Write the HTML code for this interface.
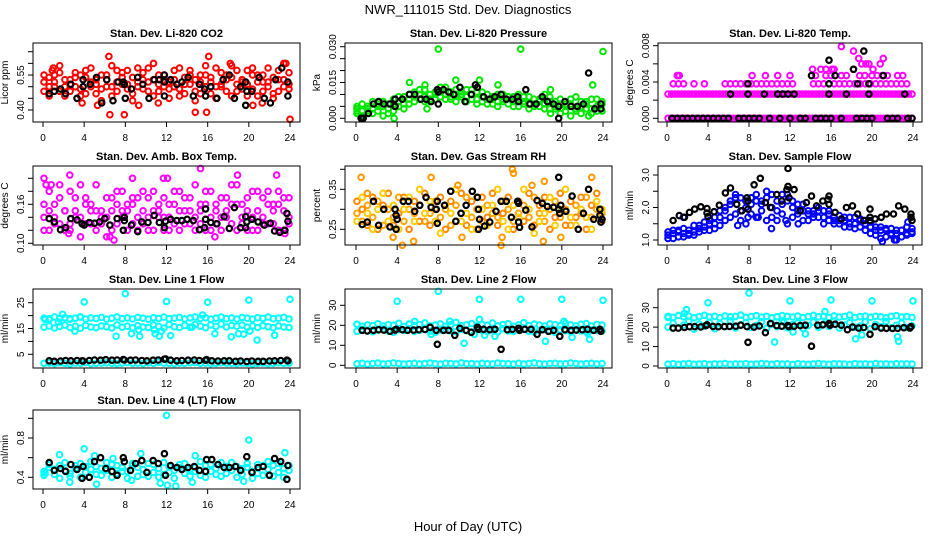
<!DOCTYPE html>
<html><head><meta charset="utf-8"><title>NWR_111015 Std. Dev. Diagnostics</title>
<style>
html,body{margin:0;padding:0;background:#fff;}
svg{display:block;font-family:"Liberation Sans",Arial,sans-serif;}
</style></head>
<body>
<svg id="chart" width="936" height="540" viewBox="0 0 936 540" xmlns="http://www.w3.org/2000/svg">
<rect x="0" y="0" width="936" height="540" fill="#fff"/>
<text x="468" y="14" text-anchor="middle" font-size="13">NWR_111015  Std. Dev. Diagnostics</text>
<text x="468" y="531" text-anchor="middle" font-size="13">Hour of Day (UTC)</text>
</svg>
<script>
// ---------- shared ----------
const xTicks = [0,4,8,12,16,20,24];
// ---------- P1 CO2 ----------
const co2A = [.52,.50,.55,.48,.53,.51,.56,.49,.54,.52,.47,.55,.53,.50,.57,.51,.49,.54,.52,.56,.48,.53,.55,.50,.52,.57,.49,.54,.51,.53,.47,.55,.52,.50,.56,.48,.54,.51,.53,.57,.49,.52,.55,.50,.54,.48,.53,.51];
const co2B = [.48,.54,.50,.56,.46,.53,.50,.55,.47,.58,.51,.49,.55,.46,.52,.54,.57,.47,.50,.53,.58,.46,.51,.55,.49,.53,.46,.51,.57,.48,.55,.50,.47,.58,.51,.53,.46,.57,.49,.51,.55,.46,.52,.58,.47,.53,.50,.56];
const co2C = [.55,.46,.52,.59,.50,.48,.54,.46,.57,.50,.53,.44,.50,.59,.48,.56,.51,.44,.58,.49,.52,.60,.48,.53,.45,.50,.58,.47,.55,.44,.52,.59,.54,.45,.50,.55,.59,.48,.52,.46,.58,.55,.48,.52,.45,.57,.60,.49];
const co2OutH = [1,6.4,6.5,7.9,9.3,11.2,14.8,15.9,16.1,18.2,21.3,20.4,24,23.6,0.9,5.3,3.8];
const co2OutV = [.58,.63,.38,.38,.42,.43,.39,.39,.63,.60,.43,.42,.36,.60,.57,.42,.43];
const co2BlkH = [0.6,1.1,1.7,2.2,2.7,3.3,3.9,3.9,4.6,5.2,5.7,6.2,6.8,7.3,7.8,7.9,8.0,8.6,9.2,9.7,10.3,10.8,11.3,11.8,11.8,11.8,12.4,13.0,13.5,14.1,14.6,15.2,15.7,15.8,16.3,16.9,17.5,18.1,18.6,19.2,19.7,19.8,19.7,20.3,21.0,21.5,22.1,22.6,23.2,23.8,23.8];
const co2BlkV = [.47,.48,.49,.47,.51,.45,.50,.53,.51,.54,.43,.53,.44,.52,.52,.51,.45,.49,.54,.51,.45,.53,.53,.55,.52,.46,.53,.51,.52,.54,.46,.51,.49,.46,.50,.45,.53,.55,.45,.50,.52,.48,.42,.48,.54,.45,.43,.53,.58,.52,.46];
// ---------- P2 Pressure ----------
const presA = [.004,.003,.005,.004,.006,.005,.004,.006,.007,.006,.008,.009,.010,.009,.008,.010,.011,.010,.009,.010,.011,.009,.010,.008,.009,.008,.009,.007,.008,.009,.007,.008,.007,.006,.008,.007,.006,.007,.005,.006,.005,.006,.004,.005,.006,.004,.005,.006];
const presB = [.002,.006,.003,.007,.003,.007,.002,.008,.005,.009,.006,.011,.008,.012,.007,.011,.009,.013,.008,.012,.010,.012,.008,.011,.007,.010,.006,.010,.007,.009,.005,.010,.006,.009,.005,.008,.004,.009,.004,.008,.003,.008,.003,.007,.004,.008,.003,.007];
const presC = [.005,.001,.004,.002,.005,.001,.006,.003,.009,.004,.010,.007,.012,.007,.010,.008,.013,.008,.011,.007,.009,.007,.012,.006,.011,.006,.008,.005,.010,.006,.009,.005,.009,.004,.006,.005,.010,.004,.007,.002,.006,.001,.009,.002,.007,.002,.008,.003];
const presOutH = [8,16,24,0.1,23,22.6,3.7,6.9,9.7,12,18.9,18.9,5.2,6.7,13.8];
const presOutV = [.029,.029,.028,.003,.014,.001,.000,.004,.016,.016,.012,.002,.015,.014,.014];
const presBlkH = [0.5,0.7,1.2,1.7,2.2,2.7,3.3,3.8,3.8,4.5,5.2,5.7,6.3,6.8,7.3,7.9,8.0,8.0,8.5,9.0,9.5,10.1,10.6,11.2,11.6,11.8,12.4,13.0,13.5,14.1,14.6,15.2,15.7,15.8,16.5,16.9,17.5,18.1,18.6,19.2,19.7,19.7,20.3,20.9,21.5,22.1,22.6,23.2,23.8,23.8];
const presBlkV = [0,0,.002,.006,.007,.006,.006,.008,.005,.008,.010,.010,.008,.008,.007,.012,.011,.006,.012,.011,.010,.013,.007,.010,.014,.013,.009,.008,.009,.010,.008,.008,.009,.007,.012,.006,.006,.009,.007,.006,.005,.000,.007,.005,.005,.006,.019,.004,.004,.006];
// ---------- P3 Temp ----------
const tmpA = [0,0,0,0,0,0,0,0,0,0,0,0,0,0,0,0,0,0,0,0,0,0,0,0,0,0,0,0,0,0,0,0,0,0,0,0,0,0,0,0,0,0,0,0,0,0,0,0,0,0,0,0,0,0,0,0,0,0,0,0,0,0,0,0,0,0,0,0,0,0,0,0];
const tmpB = [.00267,.00267,.00267,.00267,.00267,.00267,.00267,.00267,.00267,.00267,.00267,.00267,.00267,.00267,.00267,.00267,.00267,.00267,.00267,.00267,.00267,.00267,.00267,.00267,.00267,.00267,.00267,.00267,.00267,.00267,.00267,.00267,.00267,.00267,.00267,.00267,.00267,.00267,.00267,.00267,.00267,.00267,.00267,.00267,.00267,.00267,.00267,.00267,.00267,.00267,.00267,.00267,.00267,.00267,.00267,.00267,.00267,.00267,.00267,.00267,.00267,.00267,.00267,.00267,.00267,.00267,.00267,.00267,.00267,.00267,.00267,.00267];
const tmpC = [null,.0038,.0038,.0038,null,.0038,null,.0038,null,null,null,.0038,.0038,.0038,.0038,.0038,.0038,.0038,.0038,.0038,.0038,.0038,.0038,.0038,.0038,null,null,null,.0038,.0038,.0038,.0038,.0038,.0038,.0038,.0038,.0038,.0038,.0038,.0038,.0038,.0038,.0038,.0038,.0038,.0038,.0038,null];
const tmpOutH = [1,1.2,8.3,9.6,10.8,12,14.5,15.5,16,17,17.5,18.8,19.3,20,20.5,21,21.5,22.5,23,14.2,15,15.5,16.1,18.2,19,19.4,20.1,18.7,20.8,21.1,17,18.2,16.3,19.7];
const tmpOutV = [.0047,.0047,.0047,.0047,.0047,.0047,.0047,.0047,.0047,.0047,.0047,.0047,.0047,.0047,.0047,.0047,.0047,.0047,.0047,.0054,.0054,.0054,.0054,.0054,.006,.006,.0054,.0066,.006,.0066,.0079,.0074,.0054,.006];
const tmpBlkH = [0.5,1.0,1.5,2.0,2.5,3.0,3.5,4.0,4.5,5.0,5.5,6.0,7.0,7.5,8.0,8.5,9.0,10.0,11.0,12.0,13.0,13.5,14.5,15.0,15.5,16.0,17.0,18.5,19.0,19.5,20.0,21.5,22.0,22.5,23.5,23.9,6.2,7.9,9.5,10.8,11.3,11.8,12.4,15.8,17.5,19.7,23.2,7.9,15.8,18.6,19.7,14.1,16.4,21.1,15.8,18.2,19.2];
const tmpBlkV = [0,0,0,0,0,0,0,0,0,0,0,0,0,0,0,0,0,0,0,0,0,0,0,0,0,0,0,0,0,0,0,0,0,0,0,0,.00267,.00267,.00267,.00267,.00267,.00267,.00267,.00267,.00267,.00267,.00267,.0038,.0038,.0038,.0038,.0047,.0047,.0047,.0064,.0054,.0074];
// ---------- P4 Amb Box Temp ----------
const ambA = [.14,.12,.16,.13,.15,.12,.17,.14,.13,.16,.12,.15,.14,.17,.13,.15,.12,.16,.14,.13,.17,.12,.15,.14,.16,.13,.12,.15,.17,.14,.13,.16,.12,.15,.14,.17,.13,.12,.16,.15,.14,.12,.17,.13,.15,.16,.12,.14];
const ambB = [.16,.18,.13,.17,.12,.18,.14,.11,.17,.15,.19,.13,.17,.12,.16,.18,.15,.13,.17,.15,.12,.18,.14,.17,.12,.16,.18,.13,.15,.19,.16,.12,.18,.13,.17,.14,.16,.19,.13,.17,.12,.18,.14,.16,.13,.18,.15,.17];
const ambC = [.12,.15,.14,.19,.15,.13,.15,.19,.16,.13,.15,.14,.11,.15,.18,.14,.16,.17,.12,.18,.14,.15,.16,.12,.14,.18,.15,.17,.13,.12,.15,.18,.14,.16,.12,.15,.19,.16,.14,.12,.18,.15,.13,.18,.16,.12,.17,.13];
const ambOutH = [0.1,0.3,0.8,2.6,6.5,6.9,8.7,11.7,12.1,15.3,18.9,22.7,16.7,2.5,23.5];
const ambOutV = [.20,.19,.19,.205,.11,.105,.20,.20,.20,.215,.205,.205,.11,.115,.115];
const ambBlkH = [0.6,1.1,1.7,2.2,2.7,3.3,3.8,4.0,4.5,5.0,5.5,6.0,6.5,7.2,7.8,7.9,7.9,8.6,9.2,9.6,10.2,10.8,11.3,11.8,11.9,12.4,13.0,13.5,14.0,14.6,15.2,15.7,15.8,15.8,16.3,16.9,17.6,18.1,18.6,19.2,19.7,19.8,19.7,20.3,20.9,21.5,22.1,22.5,23.0,23.5,23.7,23.8];
const ambBlkV = [.138,.133,.121,.124,.138,.136,.130,.128,.132,.131,.133,.138,.128,.138,.120,.135,.140,.128,.118,.133,.132,.143,.132,.124,.134,.137,.135,.135,.137,.135,.121,.124,.137,.153,.132,.130,.141,.123,.155,.124,.124,.133,.141,.137,.133,.128,.131,.119,.117,.120,.146,.134];
// ---------- P5 Gas Stream RH ----------
const rhA = [.29,.27,.31,.28,.32,.26,.30,.28,.33,.27,.30,.29,.31,.27,.29,.32,.28,.30,.26,.31,.29,.33,.28,.30,.27,.31,.29,.28,.32,.30,.27,.29,.31,.28,.33,.29,.27,.30,.32,.28,.30,.26,.31,.29,.33,.28,.30,.29];
const rhB = [.32,.30,.26,.33,.25,.31,.34,.26,.29,.33,.25,.32,.27,.34,.26,.30,.33,.25,.32,.27,.34,.26,.32,.25,.33,.28,.34,.26,.29,.33,.25,.32,.27,.34,.26,.31,.33,.25,.28,.34,.26,.32,.28,.33,.25,.31,.34,.27];
const rhC = [.27,.33,.29,.25,.30,.34,.27,.31,.25,.30,.33,.27,.35,.29,.32,.27,.24,.31,.29,.35,.27,.29,.25,.33,.30,.26,.31,.35,.27,.25,.31,.28,.35,.30,.24,.27,.29,.33,.26,.30,.35,.28,.26,.30,.28,.25,.32,.30];
const rhOutH = [0.5,1.1,4.5,5.6,7.3,9.9,14.1,14.2,15.2,15.3,17.1,18.2,18.3,22.9,19.9,3.6,10.3];
const rhOutV = [.38,.34,.21,.22,.38,.36,.21,.23,.40,.39,.36,.22,.37,.38,.23,.23,.23];
const rhBlkH = [0.6,1.1,1.7,2.2,2.7,3.3,3.8,3.9,3.9,4.0,4.6,5.1,5.7,6.2,6.8,7.3,7.8,7.9,7.9,8.6,9.2,9.7,10.2,10.7,11.3,11.8,11.9,11.9,12.0,12.5,13.0,13.6,14.1,14.6,15.1,15.7,15.8,15.8,15.9,16.5,17.1,17.6,18.1,18.6,19.2,19.7,19.8,19.7,19.9,20.4,21.0,21.6,22.1,22.6,23.1,23.7,23.7,23.8,23.9];
const rhBlkV = [.262,.268,.32,.26,.30,.256,.30,.285,.25,.275,.32,.32,.295,.31,.33,.305,.30,.32,.265,.31,.345,.27,.29,.31,.345,.33,.30,.25,.275,.258,.268,.295,.32,.32,.28,.32,.315,.268,.255,.298,.256,.322,.315,.307,.305,.30,.29,.38,.31,.295,.333,.25,.29,.35,.275,.30,.285,.268,.275];
// ---------- P6 Sample Flow ----------
const sfA = [1.15,1.2,1.25,1.2,1.3,1.25,1.35,1.4,1.5,1.5,1.7,1.9,2.1,2.3,1.9,2.0,2.1,2.2,2.2,2.3,2.0,1.9,2.1,2.2,2.0,1.9,1.9,1.8,1.8,1.9,1.7,1.8,1.6,1.6,1.6,1.5,1.5,1.6,1.5,1.4,1.3,1.3,1.3,1.2,1.2,1.3,1.2,1.2];
const sfB = [1.05,1.3,1.1,1.35,1.15,1.45,1.25,1.55,1.3,1.7,1.45,2.0,1.7,2.4,1.6,2.2,1.8,2.4,1.9,2.5,1.7,2.2,1.8,2.4,1.7,2.1,1.6,1.9,1.7,2.0,1.5,1.9,1.5,1.75,1.4,1.7,1.35,1.65,1.3,1.55,1.15,1.4,1.1,1.35,1.0,1.3,1.15,1.35];
const sfC = [1.25,1.05,1.3,1.1,1.2,1.15,1.45,1.3,1.6,1.35,1.9,1.6,2.2,1.8,2.3,1.5,2.3,1.7,2.1,1.6,2.4,1.6,2.4,1.5,2.2,1.8,2.1,1.6,1.9,1.7,1.9,1.6,1.7,1.5,1.7,1.4,1.7,1.4,1.6,1.2,1.4,1.05,1.35,1.15,1.3,1.1,1.4,1.25];
const sfOutH = [1.6,8.9,10.2,12.8,21,22.2,23.5,6.9,11.6,7.9];
const sfOutV = [1.7,1.7,1.35,1.5,0.95,1.0,1.55,1.45,1.6,1.7];
const sfBlkH = [0.6,1.2,1.7,2.2,2.7,3.3,3.9,3.9,4.0,4.6,5.1,5.7,6.2,6.8,7.3,7.8,7.9,7.9,8.5,9.1,9.6,10.1,10.7,11.2,11.7,11.8,11.8,11.9,12.4,13.0,13.6,14.1,14.6,15.2,15.7,15.8,15.8,16.4,17.0,17.5,18.1,18.6,19.2,19.8,19.8,19.8,20.3,20.9,21.4,22.1,22.6,23.2,23.8,23.8,23.9];
const sfBlkV = [1.6,1.75,1.7,1.85,1.95,2.02,1.97,1.83,1.72,1.87,2.07,2.45,2.6,2.1,1.9,2.3,2.2,1.95,2.7,2.9,2.15,2.0,2.4,2.2,2.55,2.65,3.2,2.3,2.55,1.9,2.15,2.35,2.05,2.2,2.25,2.35,2.1,1.85,1.65,2.0,2.05,1.8,1.6,1.95,1.7,1.6,1.65,1.7,1.8,1.8,2.05,1.95,1.8,1.7,1.6];
// ---------- line flows black hours ----------
const lineBlkH = [0.6,1.1,1.7,2.2,2.7,3.3,3.8,3.9,4.5,5.0,5.6,6.1,6.7,7.2,7.8,7.9,8.5,9.0,9.6,10.1,10.7,11.2,11.8,11.9,12.4,13.0,13.5,14.1,14.7,15.2,15.8,15.9,16.4,17.0,17.6,18.1,18.7,19.2,19.8,20.3,20.9,21.4,22.0,22.5,23.1,23.7,23.8];
// ---------- P7 Line 1 ----------
const l1Hi = [19,18.5,19.5,18.8,19.2,18.6,19,19.4,18.7,19.1,18.9,19.3,18.6,19,19.5,18.8,19.1,18.7,19.3,19,18.6,19.2,18.9,19.4,18.8,19,19.3,18.7,19.1,19.5,18.9,19.2,18.6,19,19.4,18.8,19.1,18.7,19.3,19,18.6,19.2,18.9,19.4,18.8,19,19.3,18.7];
const l1Lo = [15.5,16,15.2,15.8,16.3,15.4,15.9,15.1,16.2,15.6,15.3,16,15.7,15.2,16.4,15.5,15.9,15.3,16.1,15.6,15.4,16.3,15.8,15.2,16.5,15.7,15.4,16.2,15.5,16.6,15.9,15.3,16.4,15.8,16.7,15.6,16.2,15.9,16.3,15.5,16,15.4,16.1,15.7,15.3,16,15.6,15.4];
const l1Base = [1.5,1.6,1.4,1.7,1.5,1.3,1.6,1.5,1.8,1.4,1.5,1.6,1.7,1.5,1.4,1.6,1.8,1.5,1.6,1.4,1.7,1.5,1.9,1.6,1.5,1.4,1.6,1.5,1.7,1.8,1.5,1.6,1.4,1.5,1.7,1.6,1.5,1.4,1.6,1.5,1.3,1.5,1.6,1.4,1.5,1.7,1.5,1.6];
const l1OutH = [0.2,0.6,1.9,3.6,4,7.1,8,8.6,9.4,10.9,11.3,12,12.4,15.5,16,16.7,18.3,19,19.5,20,20.8,22.5,24,1.5,2.6,3.1,9.3,10.8,11.5,14.5,20.1];
const l1OutV = [18.5,18.8,20.5,19.5,25.3,12,28.5,13,12,13,12,25.5,12.3,20.2,25.2,13,11.8,13,12.8,26,10.5,12.4,26.3,17.5,18.8,14,14.5,14.5,14,15.6,14];
const l1BlkV = [2.5,2.3,2.4,2.6,2.5,2.6,2.5,2.4,2.6,2.8,2.7,2.9,2.7,2.8,3.0,2.8,2.7,2.8,2.6,2.5,2.7,2.8,3.1,3.2,2.7,2.5,2.6,2.7,2.8,2.6,2.7,2.9,2.5,2.4,2.5,2.5,2.3,2.4,2.2,2.4,2.3,2.3,2.4,2.5,2.6,2.7,2.5];
// ---------- P8 Line 2 ----------
const l2A = [20.5,19.5,20.2,19.8,20.8,19.6,20.3,20,21,19.4,20.6,19.9,20.4,21.2,19.7,20.1,20.7,19.5,20.3,21.5,19.8,20.2,20.9,19.6,20.5,20,21.1,19.7,20.4,20.8,19.5,20.2,21.3,19.9,20.6,20.1,19.6,20.7,20.3,19.8,21,20.2,19.7,20.5,20.9,19.6,20.4,20.1];
const l2B = [17,18,17.3,16.8,17.6,18.2,17.1,16.5,17.8,17.4,18.3,16.9,17.5,18.1,17,16.4,17.7,18,17.2,16.8,17.9,17.3,16.6,18.2,17.4,17,17.8,16.7,18.3,17.2,16.9,17.6,18.1,17,16.6,17.5,17.9,17.1,16.4,17.8,17.3,16.8,18,17.2,16.9,17.7,17.4,17.1];
const l2Base = [0.8,1,0.6,0.9,1.1,0.7,0.8,1.2,0.9,0.6,0.8,1,0.7,0.9,1.1,0.8,0.6,1,0.9,0.7,1.2,0.8,0.9,0.6,1,0.8,0.7,1.1,0.9,0.8,0.6,1,0.7,0.9,1.2,0.8,0.6,0.9,1,0.7,0.8,1.1,0.9,0.6,0.8,1,0.7,0.9];
const l2OutH = [0.1,4,7.3,8,10.5,12,12,13.5,16,18.4,20,20.2,21,22.5,22.7,24,5.7,9.1,11.5,12.5];
const l2OutV = [20.5,32,15.5,37,11,33,23,14.5,33,12,33,22,14,16,13,32.5,22,22,15.5,15];
const l2BlkV = [17.5,17.2,17.5,17.8,17.6,17.0,17.6,18.0,17.8,17.5,17.6,17.8,17.9,19.0,17.5,10.5,17.5,17.5,15.0,18.5,17.5,16.5,19.0,18.0,18.0,17.8,18.0,8.0,17.8,18.0,18.5,17.5,18.0,18.0,15.5,17.8,17.0,17.5,14.5,17.8,17.5,17.6,17.8,18.0,17.5,18.0,17.0];
// ---------- P9 Line 3 ----------
const l3A = [25.5,25,26,25.3,25.7,24.8,25.4,26.1,25.2,25.6,24.9,25.8,25.3,25.5,26.2,25,25.4,25.9,25.1,25.6,24.8,25.3,26,25.5,25.2,25.7,24.9,25.4,26.1,25.3,25.6,25,25.8,25.2,25.5,26.2,24.9,25.4,25.7,25.1,25.6,25.3,24.8,25.5,25.9,25.2,25.4,25];
const l3B = [20,22,19.5,21,23,19,21.5,20.5,22.5,19.2,21.8,20.3,23.2,19.6,21.2,22.4,19.8,20.8,22.8,19.4,21.6,20.2,23,19.7,21.3,22.2,19.3,20.9,22.6,19.9,21.7,20.4,23.1,19.5,21.1,22.3,19.9,20.6,22.7,19.2,21.4,20.1,22.9,19.6,21,22.1,19.8,20.7];
const l3Base = [1,1.2,0.9,1.1,1.3,0.9,1,1.2,0.8,1.1,1,1.3,0.9,1.1,1,1.2,0.9,1,1.3,1.1,0.9,1.2,1,1.1,0.8,1.2,1,0.9,1.1,1.3,1,0.9,1.2,1.1,1,0.8,1.2,1,1.1,0.9,1.3,1,1.1,0.9,1.2,1,1.1,1];
const l3OutH = [1.9,4,8,10.5,12,16,18.4,19,20,22.5,22.6,24,13.5,12.3,11.4,15.4,0.1,1.7];
const l3OutV = [29,32.5,37.5,12.3,33.5,34,14,16,33.5,15,12.7,33.5,16.5,17.5,22.5,28,25,27];
const l3BlkV = [19.5,19.5,19.8,20.2,20.3,20.1,20.8,21.2,20.4,20.2,20.3,20.4,20.5,21.0,20.3,12.2,20.0,20.6,17.2,21.8,20.8,20.5,20.8,20.3,20.5,20.8,21.0,10.2,21.0,21.2,21.8,21.0,21.5,21.0,18.7,20.0,19.5,19.8,16.3,20.2,19.5,19.4,19.3,19.4,19.7,19.5,20.3];
// ---------- P10 Line 4 ----------
const l4A = [.46,.50,.43,.52,.47,.41,.49,.54,.45,.48,.51,.42,.47,.53,.44,.50,.46,.52,.41,.48,.54,.45,.49,.43,.51,.47,.53,.44,.48,.50,.42,.52,.46,.49,.55,.44,.47,.51,.43,.50,.46,.53,.42,.48,.52,.45,.49,.47];
const l4B = [.42,.53,.48,.39,.55,.44,.52,.40,.51,.56,.43,.49,.55,.40,.52,.46,.39,.54,.50,.43,.41,.53,.40,.55,.45,.39,.50,.54,.41,.46,.56,.40,.53,.43,.41,.51,.55,.40,.49,.54,.39,.44,.52,.56,.41,.54,.40,.52];
const l4OutH = [12,20,4,23.5,1.6,5,9.5,12.1,12.9,5.2,2.6,11.4,14.5,8.6,14.8,6.8,19.5,0.2];
const l4OutV = [1.03,.78,.69,.65,.63,.62,.64,.32,.31,.33,.35,.34,.35,.37,.62,.59,.36,.44];
const l4BlkV = [.55,.47,.49,.46,.53,.48,.39,.51,.40,.56,.60,.49,.46,.42,.60,.56,.47,.54,.57,.45,.57,.54,.64,.42,.52,.50,.48,.50,.51,.47,.46,.58,.58,.53,.50,.50,.51,.47,.61,.45,.50,.51,.42,.59,.56,.38,.52];

// ---------- layout ----------
const NS = "http://www.w3.org/2000/svg";
const svg = document.getElementById("chart");
const colX = [[33,300,43,290],[345,612,356,603],[658,922,667,913]];
const rowY = [[43,122],[166,245],[289,368],[410,489]];
function mk(tag, attrs, parent){ const e=document.createElementNS(NS,tag); for(const k in attrs) e.setAttribute(k,attrs[k]); (parent||svg).appendChild(e); return e; }
function idxHours(n){ const h=[]; for(let i=0;i<n;i++) h.push(0.1+i*23.8/(n-1)); return h; }

function panel(p){
  const [bl,br,x0,x24]=colX[p.col]; const [bt,bb]=rowY[p.row];
  const xs = h => x0 + (x24-x0)*h/24;
  const ys = v => p.py0 + (v-p.v0)*(p.py1-p.py0)/(p.v1-p.v0);
  const g = mk("g",{});
  
  
  const t = mk("text",{x:(bl+br)/2,y:bt-6,"text-anchor":"middle","font-size":"11","font-weight":"bold"},g);
  t.textContent=p.title;
  
  
  const yl = mk("text",{x:0,y:0,"text-anchor":"middle","font-size":"10",transform:`translate(${bl-25},${(bt+bb)/2}) rotate(-90)`},g);
  yl.textContent=p.ylab;
  
  
  const plot = mk("g",{},g);
  
  
  p.series.forEach((s,si)=>{
    const hrs = s.h || idxHours(s.v.length);
    s.v.forEach((v,i)=>{
      if(v===null) return;
      const c = mk("circle",{cx:xs(hrs[i]).toFixed(1),cy:ys(v).toFixed(1),r:s.black?2.7:2.8,fill:"none",stroke:s.color,"stroke-width":s.black?2.2:2},plot);
      
      
    });
  });
  const box = mk("rect",{x:bl,y:bt,width:br-bl,height:bb-bt,fill:"none",stroke:"#000","stroke-width":1},g);
  
  
  const xa = mk("g",{},g);
  
  
  mk("line",{x1:x0,y1:bb,x2:x24,y2:bb,stroke:"#000"},xa);
  xTicks.forEach(h=>{
    mk("line",{x1:xs(h),y1:bb,x2:xs(h),y2:bb+5,stroke:"#000"},xa);
    const tl = mk("text",{x:xs(h),y:bb+19,"text-anchor":"middle","font-size":"10"},xa);
    tl.textContent=h;
    
    
  });
  const ya = mk("g",{},g);
  
  
  mk("line",{x1:bl,y1:ys(p.ticks[0]),x2:bl,y2:ys(p.ticks[p.ticks.length-1]),stroke:"#000"},ya);
  p.ticks.forEach(v=>{ mk("line",{x1:bl-5,y1:ys(v),x2:bl,y2:ys(v),stroke:"#000"},ya); });
  p.labels.forEach((lab,i)=>{
    const tl = mk("text",{x:0,y:0,"text-anchor":"middle","font-size":"10",transform:`translate(${bl-9},${ys(p.labVals[i])}) rotate(-90)`},ya);
    tl.textContent=lab;
    
    
  });
}

const red="#ff0000", grn="#00e600", mag="#ff00ff", blu="#0000ff", cya="#00ffff", blk="#000000";
panel({name:"co2-panel",col:0,row:0,title:"Stan. Dev. Li-820 CO2",ylab:"Licor ppm",v0:.40,py0:110,v1:.65,py1:51.7,
  ticks:[.40,.45,.50,.55,.60,.65],labels:["0.40","0.55"],labVals:[.40,.55],
  series:[{v:co2A,color:red},{v:co2B,color:red},{v:co2C,color:red},{h:co2OutH,v:co2OutV,color:red},{h:co2BlkH,v:co2BlkV,color:blk,black:1}]});
panel({name:"pressure-panel",col:1,row:0,title:"Stan. Dev. Li-820 Pressure",ylab:"kPa",v0:0,py0:118.3,v1:.030,py1:46.7,
  ticks:[0,.005,.010,.015,.020,.025,.030],labels:["0.000","0.015","0.030"],labVals:[0,.015,.030],
  series:[{v:presA,color:grn},{v:presB,color:grn},{v:presC,color:grn},{h:presOutH,v:presOutV,color:grn},{h:presBlkH,v:presBlkV,color:blk,black:1}]});
panel({name:"temp-panel",col:2,row:0,title:"Stan. Dev. Li-820 Temp.",ylab:"degrees C",v0:0,py0:118.3,v1:.008,py1:45.7,
  ticks:[0,.002,.004,.006,.008],labels:["0.000","0.004","0.008"],labVals:[0,.004,.008],
  series:[{v:tmpA,color:mag},{v:tmpB,color:mag},{v:tmpC,color:mag},{h:tmpOutH,v:tmpOutV,color:mag},{h:tmpBlkH,v:tmpBlkV,color:blk,black:1}]});
panel({name:"amb-box-temp-panel",col:0,row:1,title:"Stan. Dev. Amb. Box Temp.",ylab:"degrees C",v0:.10,py0:243.3,v1:.16,py1:204.3,
  ticks:[.10,.12,.14,.16,.18,.20],labels:["0.10","0.16"],labVals:[.10,.16],
  series:[{v:ambA,color:mag},{v:ambB,color:mag},{v:ambC,color:mag},{h:ambOutH,v:ambOutV,color:mag},{h:ambBlkH,v:ambBlkV,color:blk,black:1}]});
panel({name:"gas-rh-panel",col:1,row:1,title:"Stan. Dev. Gas Stream RH",ylab:"percent",v0:.25,py0:229.3,v1:.35,py1:189.3,
  ticks:[.25,.30,.35,.40],labels:["0.25","0.35"],labVals:[.25,.35],
  series:[{v:rhA,color:"#ffa500"},{v:rhB,color:"#ff8800"},{v:rhC,color:"#ffcc00"},{h:rhOutH,v:rhOutV,color:"#ff9900"},{h:rhBlkH,v:rhBlkV,color:blk,black:1}]});
panel({name:"sample-flow-panel",col:2,row:1,title:"Stan. Dev. Sample Flow",ylab:"ml/min",v0:1.0,py0:240,v1:3.0,py1:175,
  ticks:[1.0,1.5,2.0,2.5,3.0],labels:["1.0","2.0","3.0"],labVals:[1.0,2.0,3.0],
  series:[{v:sfA,color:blu},{v:sfB,color:blu},{v:sfC,color:blu},{h:sfOutH,v:sfOutV,color:blu},{h:sfBlkH,v:sfBlkV,color:blk,black:1}]});
panel({name:"line1-flow-panel",col:0,row:2,title:"Stan. Dev. Line 1 Flow",ylab:"ml/min",v0:5,py0:354.3,v1:25,py1:302.7,
  ticks:[5,10,15,20,25],labels:["5","15","25"],labVals:[5,15,25],
  series:[{v:l1Hi,color:cya},{v:l1Lo,color:cya},{v:l1Base,color:cya},{h:l1OutH,v:l1OutV,color:cya},{h:lineBlkH,v:l1BlkV,color:blk,black:1}]});
panel({name:"line2-flow-panel",col:1,row:2,title:"Stan. Dev. Line 2 Flow",ylab:"ml/min",v0:0,py0:365.3,v1:30,py1:305.3,
  ticks:[0,10,20,30],labels:["0","10","20","30"],labVals:[0,10,20,30],
  series:[{v:l2A,color:cya},{v:l2B,color:cya},{v:l2Base,color:cya},{h:l2OutH,v:l2OutV,color:cya},{h:lineBlkH,v:l2BlkV,color:blk,black:1}]});
panel({name:"line3-flow-panel",col:2,row:2,title:"Stan. Dev. Line 3 Flow",ylab:"ml/min",v0:0,py0:366,v1:30,py1:307.7,
  ticks:[0,10,20,30],labels:["0","10","20","30"],labVals:[0,10,20,30],
  series:[{v:l3A,color:cya},{v:l3B,color:cya},{v:l3Base,color:cya},{h:l3OutH,v:l3OutV,color:cya},{h:lineBlkH,v:l3BlkV,color:blk,black:1}]});
panel({name:"line4-flow-panel",col:0,row:3,title:"Stan. Dev. Line 4 (LT) Flow",ylab:"ml/min",v0:.4,py0:477.3,v1:.8,py1:438,
  ticks:[.4,.6,.8,1.0],labels:["0.4","0.8"],labVals:[.4,.8],
  series:[{v:l4A,color:cya},{v:l4B,color:cya},{h:l4OutH,v:l4OutV,color:cya},{h:lineBlkH,v:l4BlkV,color:blk,black:1}]});
</script>
</body></html>
